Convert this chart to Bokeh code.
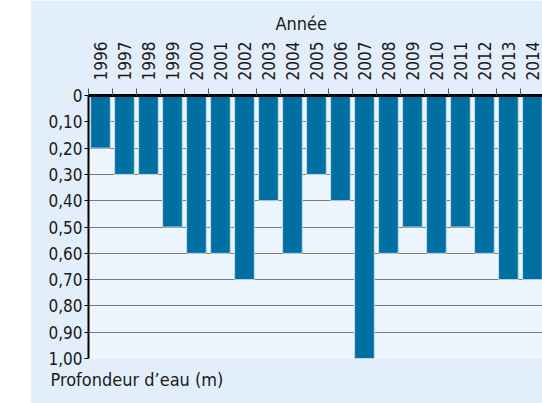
from bokeh.plotting import figure
from bokeh.models import Range1d, FixedTicker, Title, Spacer
from bokeh.layouts import row
from bokeh.embed import file_html
from bokeh.resources import INLINE

years = [1996, 1997, 1998, 1999, 2000, 2001, 2002, 2003, 2004, 2005,
         2006, 2007, 2008, 2009, 2010, 2011, 2012, 2013, 2014]
depth = [0.20, 0.30, 0.30, 0.50, 0.60, 0.60, 0.70, 0.40, 0.60, 0.30,
         0.40, 1.00, 0.60, 0.50, 0.60, 0.50, 0.60, 0.70, 0.70]
y_ticks = [0.0, 0.1, 0.2, 0.3, 0.4, 0.5, 0.6, 0.7, 0.8, 0.9, 1.0]
y_labels = ["0", "0,10", "0,20", "0,30", "0,40", "0,50", "0,60", "0,70", "0,80", "0,90", "1,00"]

FONT = "DejaVu Sans Condensed"
TXT = "#1a1a1a"

p = figure(width=512, height=403, output_backend="svg", toolbar_location=None,
           x_range=Range1d(years[0] - 0.5, years[-1] + 0.42),
           y_range=Range1d(1.0, 0.0), x_axis_location="above",
           min_border_left=58, min_border_right=0, min_border_bottom=45,
           min_border_top=95, title=None)
p.background_fill_color = "#edf5fd"
p.border_fill_color = "#e2eef9"
p.outline_line_color = None

p.vbar(x=years, top=depth, bottom=0, width=0.82, fill_color="#0070a2",
       line_color="#bcd9ec", line_width=1)

xa = p.xaxis[0]
xa.ticker = FixedTicker(ticks=years, minor_ticks=[y - 0.5 for y in years] + [years[-1] + 0.5])
xa.major_label_overrides = {y: str(y) for y in years}
xa.major_label_orientation = "vertical"
xa.major_tick_line_color = None
xa.major_tick_out = 0
xa.major_tick_in = 0
xa.minor_tick_line_color = "#555555"
xa.minor_tick_out = 7
xa.minor_tick_in = 0
xa.axis_line_color = "black"
xa.axis_line_width = 3
xa.major_label_standoff = 8
xa.major_label_text_font = FONT
xa.major_label_text_font_size = "17px"
xa.major_label_text_color = TXT

ya = p.yaxis[0]
ya.ticker = FixedTicker(ticks=y_ticks)
ya.major_label_overrides = {t: l for t, l in zip(y_ticks, y_labels)}
ya.major_tick_out = 4
ya.major_tick_in = 0
ya.major_tick_line_color = "black"
ya.minor_tick_line_color = None
ya.axis_line_color = "black"
ya.axis_line_width = 2
ya.major_label_standoff = 2
ya.major_label_text_font = FONT
ya.major_label_text_font_size = "17px"
ya.major_label_text_color = TXT

p.xgrid.visible = False
p.ygrid.ticker = FixedTicker(ticks=y_ticks)
p.ygrid.grid_line_color = "#7a7a7a"
p.ygrid.grid_line_width = 1

p.add_layout(Title(text="Année", align="left", offset=187, text_font=FONT,
                   text_font_size="18px", text_font_style="normal", text_color=TXT), "above")
p.add_layout(Title(text="Profondeur d’eau (m)", align="left", offset=-38, standoff=16,
                   text_font=FONT, text_font_size="18px", text_font_style="normal",
                   text_color=TXT), "below")

layout = row(Spacer(width=30, height=403), p)
open("out.html", "w").write(file_html(layout, INLINE))
